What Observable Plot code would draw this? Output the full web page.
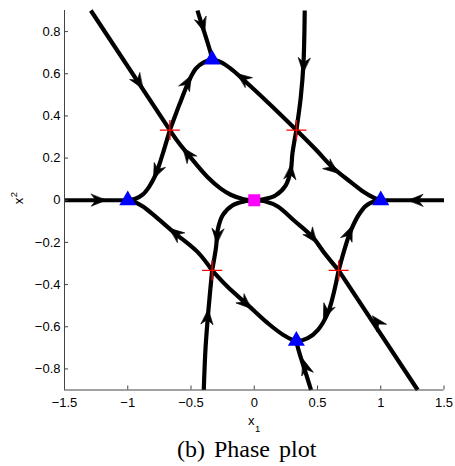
<!DOCTYPE html>
<html><head><meta charset="utf-8">
<script src="https://cdn.jsdelivr.net/npm/d3@7"></script>
<script src="https://cdn.jsdelivr.net/npm/@observablehq/plot@0.6"></script>
<style>
body{margin:0;background:#fff;}
#wrap{position:relative;width:455px;height:466px;overflow:hidden;}
#caption{position:absolute;left:177px;top:437px;font-family:"Liberation Serif","Times New Roman",serif;font-size:24px;line-height:24px;word-spacing:3px;white-space:nowrap;color:#000;}
</style></head><body>
<div id="wrap"><div id="chart"></div><div id="caption">(b) Phase plot</div></div>
<script>
// axes
const xDomain = [-1.5, 1.5];
const yDomain = [-0.9, 0.9];
const xTicks = [-1.5, -1, -0.5, 0, 0.5, 1, 1.5];
const yTicks = [-0.8, -0.6, -0.4, -0.2, 0, 0.2, 0.4, 0.6, 0.8];
const xLabel = ["x", "1"];   // base letter, subscript
const yLabel = ["x", "2"];

// equilibria
const stableNodes = [[-1, 0], [1, 0], [-0.333, 0.667], [0.333, -0.667]];
const unstableNodes = [[0, 0]];
const saddles = [[-0.667, 0.333], [0.333, 0.333], [-0.333, -0.333], [0.667, -0.333]];

// trajectories
const trajTopLeft = [[-1.292, 0.9], [-0.667, 0.333]];
const trajS1Origin = [[-0.667, 0.333], [-0.6, 0.275], [-0.528, 0.221], [-0.37, 0.11], [-0.265, 0.055], [-0.186, 0.026], [-0.09, 0.006], [0, 0]];
const trajArchT2 = [[-0.667, 0.333], [-0.609, 0.427], [-0.581, 0.47], [-0.528, 0.55], [-0.462, 0.624], [-0.396, 0.655], [-0.333, 0.667], [-0.265, 0.655], [-0.186, 0.624], [-0.081, 0.569], [0.104, 0.466], [0.333, 0.333]];
const trajTopT2 = [[-0.449, 0.9], [-0.41, 0.825], [-0.37, 0.75], [-0.345, 0.7], [-0.333, 0.667]];
const trajTopS2 = [[0.399, 0.9], [0.389, 0.648], [0.368, 0.49], [0.333, 0.333]];
const trajS2Origin = [[0.333, 0.333], [0.302, 0.223], [0.289, 0.142], [0.249, 0.071], [0.17, 0.024], [0.075, 0.005], [0, 0]];
const trajS2T3 = [[0.333, 0.333], [0.492, 0.237], [0.616, 0.158], [0.761, 0.087], [0.866, 0.039], [0.945, 0.012], [1, 0]];
const trajS1T1 = [[-0.667, 0.333], [-0.715, 0.237], [-0.75, 0.17], [-0.78, 0.12], [-0.83, 0.065], [-0.88, 0.028], [-0.94, 0.007], [-1, 0]];
const trajLeft = [[-1.5, 0], [-1, 0]];
const trajRight = [[1, 0], [1.5, 0]];
const trajBottomRight = [[1.292, -0.9], [0.667, -0.333]];
const trajOriginS3 = [[0, 0], [0.09, -0.006], [0.186, -0.03], [0.312, -0.095], [0.462, -0.175], [0.549, -0.246], [0.667, -0.333]];
const trajArchT4 = [[-0.333, -0.333], [-0.209, -0.412], [-0.067, -0.488], [0.107, -0.583], [0.233, -0.64], [0.333, -0.667], [0.423, -0.654], [0.502, -0.616], [0.581, -0.536], [0.628, -0.441], [0.667, -0.333]];
const trajBottomT4 = [[0.449, -0.9], [0.41, -0.825], [0.37, -0.75], [0.345, -0.7], [0.333, -0.667]];
const trajBottomS4 = [[-0.399, -0.9], [-0.385, -0.7], [-0.362, -0.52], [-0.333, -0.333]];
const trajOriginS4 = [[0, 0], [-0.075, -0.005], [-0.17, -0.024], [-0.249, -0.071], [-0.289, -0.142], [-0.302, -0.223], [-0.333, -0.333]];
const trajS4T1 = [[-0.333, -0.333], [-0.447, -0.246], [-0.636, -0.152], [-0.794, -0.071], [-0.88, -0.03], [-0.945, -0.008], [-1, 0]];
const trajS3T3 = [[0.667, -0.333], [0.71, -0.24], [0.75, -0.165], [0.785, -0.115], [0.825, -0.07], [0.88, -0.028], [0.94, -0.007], [1, 0]];

// arrowheads: [x, y, towardX, towardY]
const arrows = [
  [-0.913, 0.559, -0.667, 0.333],
  [-0.528, 0.221, -0.667, 0.333],
  [-0.525, 0.56, -0.47, 0.62],
  [-0.41, 0.83, -0.37, 0.75],
  [-0.09, 0.58, -0.19, 0.625],
  [0.39, 0.64, 0.375, 0.52],
  [0.288, 0.135, 0.302, 0.223],
  [0.616, 0.15, 0.70, 0.11],
  [-1.23, 0, -1, 0],
  [1.275, 0, 1, 0],
  [-0.772, 0.135, -0.81, 0.085],
  [0.972, -0.577, 0.667, -0.333],
  [0.458, -0.174, 0.549, -0.246],
  [0.57, -0.53, 0.52, -0.6],
  [0.405, -0.79, 0.37, -0.72],
  [-0.069, -0.49, 0.05, -0.555],
  [-0.368, -0.553, -0.35, -0.43],
  [-0.292, -0.17, -0.302, -0.25],
  [-0.625, -0.155, -0.72, -0.11],
  [0.752, -0.155, 0.79, -0.1]
];

const trajectories = {trajTopLeft, trajS1Origin, trajArchT2, trajTopT2, trajTopS2, trajS2Origin, trajS2T3, trajS1T1, trajLeft, trajRight,
  trajBottomRight, trajOriginS3, trajArchT4, trajBottomT4, trajBottomS4, trajOriginS4, trajS4T1, trajS3T3};
const lineRows = Object.entries(trajectories).flatMap(([id, pts]) => pts.map(([x, y]) => ({id, x, y})));

const W = 455, H = 435, mL = 64, mR = 11.5, mT = 10, mB = 45.5;
const sx = Plot.scale({x: {domain: xDomain, range: [mL, W - mR]}});
const sy = Plot.scale({y: {domain: yDomain, range: [H - mB, mT]}});
const arrowRows = arrows.map(([x, y, tx, ty]) => ({
  x, y,
  angle: Math.atan2(sx.apply(tx) - sx.apply(x), -(sy.apply(ty) - sy.apply(y))) * 180 / Math.PI
}));

const barb = {draw(ctx, l) { const w = 6; ctx.moveTo(0, -l); ctx.lineTo(w, 0); ctx.lineTo(0, -l * 0.32); ctx.lineTo(-w, 0); ctx.closePath(); }};
const plusSym = {draw(ctx) { const h = 10; ctx.moveTo(-h, 0); ctx.lineTo(h, 0); ctx.moveTo(0, -h); ctx.lineTo(0, h); }};
const fmt = d => (d < 0 ? "\u2212" : "") + String(Math.abs(d));
const axisColor = "#444";

const chart = Plot.plot({
  width: W, height: H,
  marginLeft: mL, marginRight: mR, marginTop: mT, marginBottom: mB,
  style: {fontFamily: "'Liberation Sans', Arial, sans-serif", fontSize: "13px", background: "white", color: "#000", overflow: "visible"},
  x: {domain: xDomain, ticks: xTicks, tickFormat: fmt, tickSize: 0, tickPadding: 8, label: null},
  y: {domain: yDomain, ticks: yTicks, tickFormat: fmt, tickSize: 0, tickPadding: 4, label: null},
  marks: [
    Plot.line(lineRows, {x: "x", y: "y", z: "id", curve: "catmull-rom", stroke: "black", strokeWidth: 4.2, strokeLinecap: "butt", strokeLinejoin: "round"}),
    Plot.vector(arrowRows, {x: "x", y: "y", rotate: "angle", length: 15, anchor: "middle", shape: barb, fill: "black", stroke: "black", strokeWidth: 0.6}),
    Plot.ruleX([xDomain[0]], {stroke: axisColor, strokeWidth: 1}),
    Plot.ruleY([yDomain[0]], {stroke: axisColor, strokeWidth: 1}),
    Plot.tickX(xTicks, {x: d => d, insetTop: H - mT - mB - 4, stroke: axisColor}),
    Plot.tickY(yTicks, {y: d => d, insetRight: W - mL - mR - 4, stroke: axisColor}),
    Plot.dot(stableNodes, {x: d => d[0], y: d => d[1], symbol: "triangle", r: 6.3, fill: "#0000ff", stroke: "none"}),
    Plot.dot(unstableNodes, {x: d => d[0], y: d => d[1], symbol: "square", r: 6.77, fill: "#ff00ff", stroke: "none"}),
    Plot.dot(saddles, {x: d => d[0], y: d => d[1], symbol: plusSym, fill: "none", stroke: "#ff0000", strokeWidth: 1.3}),
    // axis titles: letter plus a smaller, lowered index
    Plot.text([xLabel[0]], {text: d => d, frameAnchor: "bottom", dx: -3, dy: 34.5, fontSize: 13}),
    Plot.text([xLabel[1]], {text: d => d, frameAnchor: "bottom", dx: 3.5, dy: 41.5, fontSize: 9.5}),
    Plot.text([yLabel[0]], {text: d => d, frameAnchor: "left", dx: -46, dy: 4, rotate: -90, fontSize: 13}),
    Plot.text([yLabel[1]], {text: d => d, frameAnchor: "left", dx: -51, dy: -3, rotate: -90, fontSize: 9.5})
  ]
});
document.getElementById("chart").appendChild(chart);
</script>
</body></html>
